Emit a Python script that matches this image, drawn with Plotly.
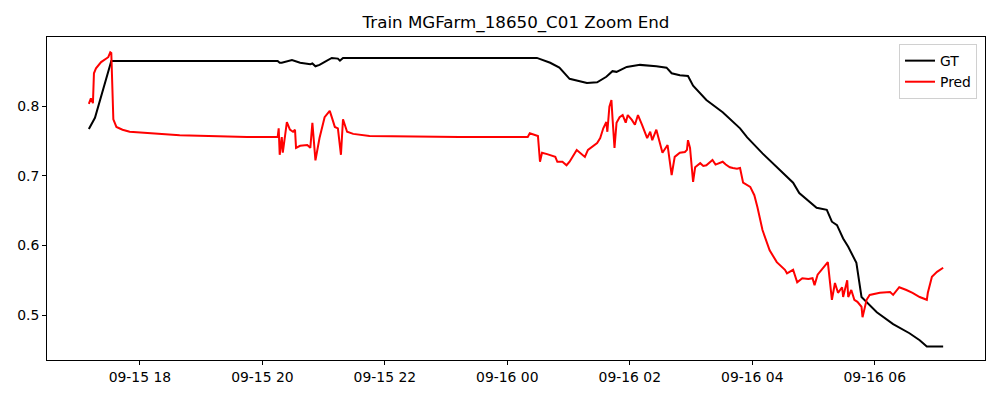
import plotly.graph_objects as go

gt_time = [
    "2023-09-15 17:10", "2023-09-15 17:16", "2023-09-15 17:32", "2023-09-15 20:15",
    "2023-09-15 20:17", "2023-09-15 20:19", "2023-09-15 20:29", "2023-09-15 20:37",
    "2023-09-15 20:47", "2023-09-15 20:49", "2023-09-15 20:52", "2023-09-15 20:56",
    "2023-09-15 21:02", "2023-09-15 21:08", "2023-09-15 21:14", "2023-09-15 21:16",
    "2023-09-15 21:19", "2023-09-16 00:29", "2023-09-16 00:42", "2023-09-16 00:51",
    "2023-09-16 01:01", "2023-09-16 01:11", "2023-09-16 01:18", "2023-09-16 01:28",
    "2023-09-16 01:37", "2023-09-16 01:43", "2023-09-16 01:47", "2023-09-16 01:57",
    "2023-09-16 02:10", "2023-09-16 02:26", "2023-09-16 02:36", "2023-09-16 02:41",
    "2023-09-16 02:49", "2023-09-16 02:57", "2023-09-16 03:02", "2023-09-16 03:15",
    "2023-09-16 03:31", "2023-09-16 03:48", "2023-09-16 03:55", "2023-09-16 04:10",
    "2023-09-16 04:27", "2023-09-16 04:40", "2023-09-16 04:46", "2023-09-16 04:59",
    "2023-09-16 05:03", "2023-09-16 05:13", "2023-09-16 05:18", "2023-09-16 05:23",
    "2023-09-16 05:29", "2023-09-16 05:34", "2023-09-16 05:42", "2023-09-16 05:47",
    "2023-09-16 05:52", "2023-09-16 06:02", "2023-09-16 06:18", "2023-09-16 06:34",
    "2023-09-16 06:44", "2023-09-16 06:51", "2023-09-16 07:07",
]
gt_value = [
    0.767, 0.783, 0.8646, 0.8646,
    0.862, 0.862, 0.866, 0.862,
    0.860, 0.861, 0.857, 0.859,
    0.864, 0.869, 0.868, 0.865,
    0.869, 0.869, 0.862, 0.855,
    0.839, 0.836, 0.833, 0.834,
    0.842, 0.850, 0.849, 0.856,
    0.859, 0.857, 0.855, 0.847,
    0.844, 0.843, 0.829, 0.8086,
    0.791, 0.768, 0.755, 0.732,
    0.708, 0.690, 0.675, 0.658,
    0.654, 0.651, 0.634, 0.629,
    0.610, 0.598, 0.575, 0.526,
    0.519, 0.504, 0.487, 0.474,
    0.464, 0.455, 0.455,
]

pred_time = [
    "2023-09-15 17:10", "2023-09-15 17:12", "2023-09-15 17:14", "2023-09-15 17:15",
    "2023-09-15 17:17", "2023-09-15 17:22", "2023-09-15 17:29", "2023-09-15 17:31",
    "2023-09-15 17:32", "2023-09-15 17:34", "2023-09-15 17:37", "2023-09-15 17:43",
    "2023-09-15 17:50", "2023-09-15 18:07", "2023-09-15 18:39", "2023-09-15 19:45",
    "2023-09-15 20:15", "2023-09-15 20:16", "2023-09-15 20:17", "2023-09-15 20:19",
    "2023-09-15 20:20", "2023-09-15 20:21", "2023-09-15 20:24", "2023-09-15 20:27",
    "2023-09-15 20:30", "2023-09-15 20:32", "2023-09-15 20:33", "2023-09-15 20:37",
    "2023-09-15 20:44", "2023-09-15 20:47", "2023-09-15 20:49", "2023-09-15 20:52",
    "2023-09-15 20:56", "2023-09-15 21:01", "2023-09-15 21:06", "2023-09-15 21:08",
    "2023-09-15 21:11", "2023-09-15 21:14", "2023-09-15 21:17", "2023-09-15 21:19",
    "2023-09-15 21:23", "2023-09-15 21:29", "2023-09-15 21:45", "2023-09-15 23:13",
    "2023-09-16 00:20", "2023-09-16 00:22", "2023-09-16 00:29", "2023-09-16 00:30",
    "2023-09-16 00:32", "2023-09-16 00:34", "2023-09-16 00:39", "2023-09-16 00:47",
    "2023-09-16 00:49", "2023-09-16 00:54", "2023-09-16 00:58", "2023-09-16 01:01",
    "2023-09-16 01:08", "2023-09-16 01:11", "2023-09-16 01:16", "2023-09-16 01:19",
    "2023-09-16 01:28", "2023-09-16 01:31", "2023-09-16 01:34", "2023-09-16 01:37",
    "2023-09-16 01:38", "2023-09-16 01:40", "2023-09-16 01:42", "2023-09-16 01:43",
    "2023-09-16 01:45", "2023-09-16 01:47", "2023-09-16 01:50", "2023-09-16 01:53",
    "2023-09-16 01:56", "2023-09-16 01:58", "2023-09-16 02:02", "2023-09-16 02:05",
    "2023-09-16 02:08", "2023-09-16 02:12", "2023-09-16 02:17", "2023-09-16 02:20",
    "2023-09-16 02:22", "2023-09-16 02:26", "2023-09-16 02:32", "2023-09-16 02:37",
    "2023-09-16 02:41", "2023-09-16 02:44", "2023-09-16 02:49", "2023-09-16 02:54",
    "2023-09-16 02:56", "2023-09-16 02:57", "2023-09-16 02:59", "2023-09-16 03:02",
    "2023-09-16 03:04", "2023-09-16 03:09", "2023-09-16 03:12", "2023-09-16 03:15",
    "2023-09-16 03:18", "2023-09-16 03:21", "2023-09-16 03:24", "2023-09-16 03:28",
    "2023-09-16 03:31", "2023-09-16 03:34", "2023-09-16 03:38", "2023-09-16 03:41",
    "2023-09-16 03:45", "2023-09-16 03:48", "2023-09-16 03:51", "2023-09-16 03:58",
    "2023-09-16 04:02", "2023-09-16 04:05", "2023-09-16 04:10", "2023-09-16 04:17",
    "2023-09-16 04:24", "2023-09-16 04:32", "2023-09-16 04:34", "2023-09-16 04:40",
    "2023-09-16 04:44", "2023-09-16 04:49", "2023-09-16 04:55", "2023-09-16 04:59",
    "2023-09-16 05:01", "2023-09-16 05:04", "2023-09-16 05:13", "2023-09-16 05:14",
    "2023-09-16 05:18", "2023-09-16 05:21", "2023-09-16 05:24", "2023-09-16 05:28",
    "2023-09-16 05:29", "2023-09-16 05:33", "2023-09-16 05:34", "2023-09-16 05:37",
    "2023-09-16 05:40", "2023-09-16 05:43", "2023-09-16 05:47", "2023-09-16 05:48",
    "2023-09-16 05:52", "2023-09-16 05:55", "2023-09-16 06:05", "2023-09-16 06:15",
    "2023-09-16 06:18", "2023-09-16 06:24", "2023-09-16 06:31", "2023-09-16 06:37",
    "2023-09-16 06:44", "2023-09-16 06:51", "2023-09-16 06:52", "2023-09-16 06:56",
    "2023-09-16 07:01", "2023-09-16 07:07",
]
pred_value = [
    0.803, 0.811, 0.804, 0.847,
    0.854, 0.863, 0.870, 0.877,
    0.876, 0.781, 0.770, 0.766,
    0.763, 0.761, 0.758, 0.7555,
    0.7555, 0.768, 0.730, 0.7555,
    0.733, 0.744, 0.777, 0.766,
    0.763, 0.766, 0.740, 0.743,
    0.744, 0.740, 0.776, 0.722,
    0.754, 0.784, 0.793, 0.784,
    0.770, 0.768, 0.730, 0.781,
    0.763, 0.760, 0.757, 0.7555,
    0.7555, 0.761, 0.758, 0.757,
    0.720, 0.733, 0.731, 0.727,
    0.720, 0.720, 0.715, 0.720,
    0.737, 0.733, 0.727, 0.737,
    0.747, 0.754, 0.768, 0.777,
    0.763, 0.799, 0.8086, 0.784,
    0.740, 0.776, 0.784, 0.787,
    0.776, 0.787, 0.780, 0.773,
    0.787, 0.773, 0.754, 0.763,
    0.751, 0.766, 0.733, 0.744,
    0.701, 0.727, 0.733, 0.734,
    0.737, 0.751, 0.740, 0.691,
    0.712, 0.718, 0.714, 0.715,
    0.719, 0.7225, 0.716, 0.718,
    0.720, 0.716, 0.712, 0.711,
    0.710, 0.711, 0.690, 0.684,
    0.672, 0.655, 0.622, 0.593,
    0.576, 0.565, 0.560, 0.565,
    0.547, 0.553, 0.552, 0.553,
    0.543, 0.558, 0.575, 0.576,
    0.522, 0.546, 0.532, 0.540,
    0.526, 0.550, 0.526, 0.536,
    0.522, 0.519, 0.512, 0.497,
    0.522, 0.529, 0.532, 0.533,
    0.529, 0.540, 0.536, 0.532,
    0.526, 0.522, 0.532, 0.555,
    0.562, 0.568,
]

y_ticks = [0.5, 0.6, 0.7, 0.8]
x_range = ["2023-09-15 16:29", "2023-09-16 07:48"]
y_range = [0.4356, 0.899]

font = "DejaVu Sans, Liberation Sans, sans-serif"

fig = go.Figure()
fig.add_trace(go.Scatter(x=gt_time, y=gt_value, mode="lines", name="GT",
                         line=dict(color="black", width=2)))
fig.add_trace(go.Scatter(x=pred_time, y=pred_value, mode="lines", name="Pred",
                         line=dict(color="red", width=2)))

fig.update_layout(
    width=1000, height=400,
    paper_bgcolor="white", plot_bgcolor="white",
    margin=dict(l=47, r=15, t=37, b=40),
    font=dict(family=font, size=13.9, color="black"),
    title=dict(text="Train MGFarm_18650_C01 Zoom End", x=0.516, xanchor="center",
               y=0.945, yanchor="middle", font=dict(size=16.7, family=font)),
    showlegend=True,
    legend=dict(x=0.9915, y=0.978, xanchor="right", yanchor="top",
                bgcolor="rgba(255,255,255,0.8)", bordercolor="#d0d0d0", borderwidth=1,
                font=dict(size=13.9, family=font), itemwidth=30, tracegroupgap=0),
)
fig.update_xaxes(
    type="date", range=x_range, tick0="2023-09-15 18:00", dtick=7200000,
    tickformat="%m-%d %H", showgrid=False, zeroline=False,
    showline=True, linecolor="black", linewidth=1, mirror=True,
    ticks="outside", ticklen=4, tickcolor="black", tickfont=dict(size=13.9),
)
fig.update_yaxes(
    range=y_range, tickvals=y_ticks, ticktext=[str(v) for v in y_ticks],
    showgrid=False, zeroline=False,
    showline=True, linecolor="black", linewidth=1, mirror=True,
    ticks="outside", ticklen=4, tickcolor="black", tickfont=dict(size=13.9),
)

fig.write_html("out.html", config={"displayModeBar": False},
               post_script="document.body.style.margin='0';")
